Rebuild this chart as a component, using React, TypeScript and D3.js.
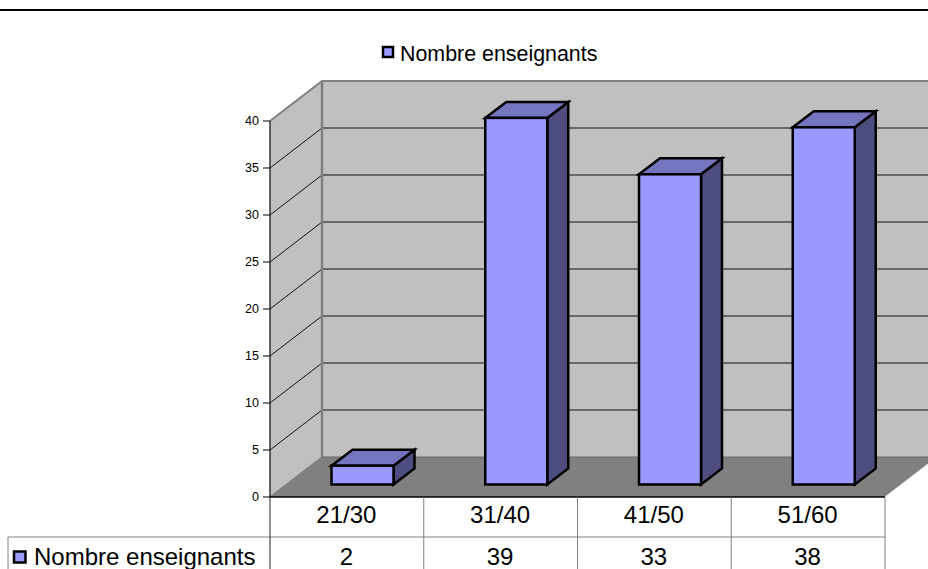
import React from "react";
import * as d3 from "d3";

const categories = ["21/30", "31/40", "41/50", "51/60"];
const teachers = [2, 39, 33, 38];
const yTicks = [0, 5, 10, 15, 20, 25, 30, 35, 40];
const seriesName = "Nombre enseignants";

const W = 928, H = 569;
const x0 = 270, x1 = 885, y0 = 497, y40 = 121;
const depthX = 52, depthY = 40;
const barDepthX = 21, barDepthY = 16, barWidth = 62, barOffset = 61.5, barFloorRise = 12.5;
const row1 = 537;

const x = d3.scaleBand<string>().domain(categories).range([x0, x1]);
const y = d3.scaleLinear().domain([0, 40]).range([y0, y40]);
const FONT = "'Liberation Sans', Arial, sans-serif";
const pts = (p: number[][]) => p.map(q => q.join(",")).join(" ");

function Txt({ px, py, size, anchor = "start", children }: any) {
  return (
    <text x={px} y={py} fontFamily={FONT} fontSize={size} textAnchor={anchor} fill="#000">{children}</text>
  );
}

export default function App() {
  return (
    <svg width={W} height={H} viewBox={`0 0 ${W} ${H}`}
      style={{ position: "absolute", left: 0, top: 0, background: "#fff", display: "block" }}>
      <line x1={0} x2={W} y1={10} y2={10} stroke="#000" strokeWidth={2} />

      {/* back wall and side wall */}
      <polygon points={pts([[x0 + depthX, y(40) - depthY], [x1 + depthX, y(40) - depthY], [x1 + depthX, y0 - depthY], [x0 + depthX, y0 - depthY]])} fill="#c0c0c0" />
      <polygon points={pts([[x0, y(40)], [x0 + depthX, y(40) - depthY], [x0 + depthX, y0 - depthY], [x0, y0]])} fill="#c0c0c0" />
      {/* floor */}
      <polygon points={pts([[x0, y0], [x1, y0], [x1 + depthX, y0 - depthY], [x0 + depthX, y0 - depthY]])} fill="#808080" />
      <line x1={x1} y1={y0} x2={x1 + depthX} y2={y0 - depthY} stroke="#e8e8e8" strokeWidth={1} />

      {/* gridlines */}
      {yTicks.filter(t => t > 0 && t < 40).map(t => (
        <polyline key={t} points={pts([[x0, y(t)], [x0 + depthX, y(t) - depthY], [x1 + depthX, y(t) - depthY]])}
          fill="none" stroke="#111" strokeWidth={1} />
      ))}
      {/* wall edges */}
      <polyline points={pts([[x0, y(40)], [x0 + depthX, y(40) - depthY], [x1 + depthX, y(40) - depthY]])} fill="none" stroke="#808080" strokeWidth={2} />
      <line x1={x0 + depthX} x2={x0 + depthX} y1={y(40) - depthY} y2={y0 - depthY} stroke="#808080" strokeWidth={2.5} />
      <line x1={x0} x2={x0 + depthX} y1={y0} y2={y0 - depthY} stroke="#808080" strokeWidth={1.5} />
      <line x1={x0 + depthX} x2={x1 + depthX} y1={y0 - depthY} y2={y0 - depthY} stroke="#666" strokeWidth={1} />

      {/* axis */}
      <line x1={x0} x2={x0} y1={y(40)} y2={y0} stroke="#333" strokeWidth={1.5} />
      {yTicks.map(t => (
        <g key={t}>
          <line x1={x0 - 7} x2={x0} y1={y(t)} y2={y(t)} stroke="#000" />
          <Txt px={x0 - 11} py={y(t) + 4} size={12.5} anchor="end">{t}</Txt>
        </g>
      ))}

      {/* bars */}
      {categories.map((c, i) => {
        const left = x(c)! + barOffset;
        const right = left + barWidth;
        const base = y0 - barFloorRise;
        const top = base - (y0 - y(teachers[i]));
        const line = { stroke: "#000", strokeWidth: 2.5, strokeLinejoin: "miter" as const };
        return (
          <g key={c}>
            <polygon {...line} fill="#4d4d80" points={pts([[right, top], [right + barDepthX, top - barDepthY], [right + barDepthX, base - barDepthY], [right, base]])} />
            <polygon {...line} fill="#7474bf" points={pts([[left, top], [left + barDepthX, top - barDepthY], [right + barDepthX, top - barDepthY], [right, top]])} />
            <rect {...line} fill="#9999ff" x={left} y={top} width={barWidth} height={base - top} />
          </g>
        );
      })}

      {/* front floor edge */}
      <line x1={x0} x2={x1} y1={y0} y2={y0} stroke="#000" strokeWidth={1.5} />

      {/* data table */}
      <line x1={8} x2={x1} y1={row1} y2={row1} stroke="#808080" />
      <line x1={8} x2={8} y1={row1} y2={H} stroke="#808080" />
      <line x1={x0} x2={x0} y1={y0} y2={H} stroke="#222" />
      {categories.map(c => (
        <line key={c} x1={x(c)! + x.bandwidth()} x2={x(c)! + x.bandwidth()} y1={y0} y2={H} stroke="#808080" />
      ))}
      <rect x={14} y={551.5} width={11.5} height={11} fill="#9999ff" stroke="#000" strokeWidth={2.5} />
      <Txt px={34} py={565} size={24}>{seriesName}</Txt>
      {categories.map((c, i) => (
        <g key={c}>
          <Txt px={x(c)! + x.bandwidth() / 2 - 0.5} py={522.5} size={24} anchor="middle">{c}</Txt>
          <Txt px={x(c)! + x.bandwidth() / 2 - 0.5} py={565} size={24} anchor="middle">{teachers[i]}</Txt>
        </g>
      ))}

      {/* top legend */}
      <rect x={383} y={47} width={10} height={10} fill="#9999ff" stroke="#000" strokeWidth={2.5} />
      <Txt px={400} py={61} size={21.4}>{seriesName}</Txt>
    </svg>
  );
}
